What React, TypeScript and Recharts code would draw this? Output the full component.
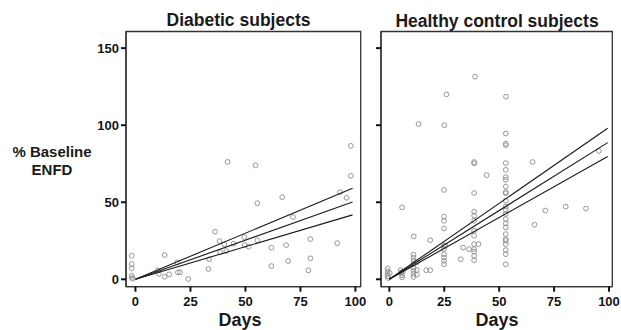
import React from 'react';
import { ScatterChart, Scatter, XAxis, YAxis, ReferenceArea } from 'recharts';

// Diabetic subjects: days vs % baseline ENFD
const diabeticDays = [-1.7, -1.7, -1.7, -1.7, -1.7, -1.2, 10.2, 10.7, 13.3, 13.3, 15.3, 19, 19.3, 20.3, 24, 33.2, 33.5, 36.2, 38.2, 38.5, 41.3, 40.4, 41.9, 44.6, 49.5, 49.7, 51.5, 54.6, 55.4, 55.4, 61.8, 61.8, 66.7, 68.5, 69.4, 71.6, 78.6, 79.5, 79.5, 91.7, 93, 96, 97.9, 97.9];
const diabeticEnfd = [15.3, 9.9, 7.1, 2.4, 1, 0.4, 5.8, 3.5, 15.8, 1.7, 3.2, 11, 4.5, 4.5, 0.2, 6.7, 13, 30.9, 24.8, 17.5, 18.3, 22.7, 76.2, 23.1, 27.4, 22.2, 21.2, 74, 49.4, 25.3, 20.5, 8.6, 53.3, 22.2, 11.9, 40.4, 5.8, 26.1, 13.6, 23.5, 56.6, 52.9, 67.1, 86.6];

// Healthy control subjects
const controlDays = [
  -0.8, -0.8, -0.8, -0.8, -0.5, 0.2,
  5.2, 5.5, 5.8, 5.8, 6.2,
  11, 11, 11, 11, 11, 11, 11, 11, 12.5, 12.5, 12.5,
  13.3, 26, 25, 39, 53.1, 5.8, 11.1, 18.6, 16.8, 18.6,
  24.9, 24.9, 24.9, 24.9, 24.9, 24.9, 24.9, 24.9, 24.9, 24.9, 25.5,
  32.5, 33.6, 36.3,
  38.6, 38.6, 38.6, 38.6, 38.6, 38.6, 38.6, 38.6, 38.6, 38.6, 38.6, 38.6, 38.6, 40.6,
  44.3,
  53, 53, 53, 53, 53, 53, 53, 53, 53, 53, 53, 53, 53, 53, 53, 53, 53, 53, 53, 53, 53, 53, 53, 53,
  65.2, 66.1, 71, 80.3, 89.5, 95.4,
];
const controlEnfd = [
  7, 5.2, 3.5, 2, 0.8, 4,
  6, 4.5, 2.6, 1.2, 5,
  16, 14, 12, 10, 7.5, 5.5, 3.5, 1.5, 11, 6, 3,
  100.7, 120, 100, 131.5, 118.5, 46.7, 27.8, 25.4, 5.9, 5.9,
  58, 40.7, 38, 33, 21.7, 19.6, 16.3, 14.1, 12, 9.8, 22,
  13, 20.6, 19.6,
  76.1, 75.2, 56, 43.9, 41.3, 38, 31.5, 28.3, 22.8, 19.6, 18, 15.2, 12.4, 22.8,
  67.6,
  94.6, 88, 87, 75.4, 71, 66.3, 64.6, 60.2, 56.5, 55.9, 51, 47.2, 45, 42.4, 39.1, 36.3, 33.7, 29.3, 26.1, 25, 22.8, 18.9, 16.3, 9.8,
  76.1, 35.4, 44.6, 47.2, 45.9, 83.3,
];

// regression line and confidence bands: start and end [day, value]
const diabeticFit = [[0, 0], [98.7, 50.1]];
const diabeticUpper = [[0, 0], [98.7, 59.1]];
const diabeticLower = [[0, 0], [98.7, 41.8]];
const controlFit = [[0, 0], [99.4, 88.7]];
const controlUpper = [[0, 0], [99.4, 98]];
const controlLower = [[0, 0], [99.4, 79.7]];

const xTicks = [0, 25, 50, 75, 100];
const yTicks = [0, 50, 100, 150];

const FONT = '"Liberation Sans", Arial, Helvetica, sans-serif';
const Y_DOMAIN: [number, number] = [-4.8, 160.8];

const toPoints = (xs: number[], ys: number[]) => xs.map((x, i) => ({ x, y: ys[i] }));
const toLine = (pts: number[][]) => pts.map(([x, y]) => ({ x, y }));

const Dot = (props: any) => (
  <circle cx={props.cx} cy={props.cy} r={2.4} fill="none" stroke="#8c8c8c" strokeWidth={0.9} />
);
const NoDot = () => <g />;

const tickStyle = { fill: '#151515', fontSize: 13, fontWeight: 700, fontFamily: FONT };
const axisLine = { stroke: '#333', strokeWidth: 1.3 };
const tickLine = { stroke: '#111', strokeWidth: 2 };

interface PanelProps {
  points: { x: number; y: number }[];
  lines: number[][][];
  xDomain: [number, number];
  width: number;
  margin: { top: number; right: number; bottom: number; left: number };
  yAxisWidth: number;
  showYLabels: boolean;
}

const Panel = ({ points, lines, xDomain, width, margin, yAxisWidth, showYLabels }: PanelProps) => (
  <ScatterChart width={width} height={330} margin={margin}>
    <XAxis
      type="number"
      dataKey="x"
      domain={xDomain}
      allowDataOverflow
      ticks={xTicks}
      interval={0}
      height={20}
      tickSize={5}
      tickMargin={5}
      axisLine={axisLine}
      tickLine={tickLine}
      tick={tickStyle}
    />
    <YAxis
      type="number"
      dataKey="y"
      domain={Y_DOMAIN}
      allowDataOverflow
      ticks={yTicks}
      interval={0}
      width={yAxisWidth}
      tickSize={5}
      tickMargin={2}
      axisLine={axisLine}
      tickLine={tickLine}
      tick={showYLabels ? tickStyle : NoDot}
    />
    <ReferenceArea
      x1={xDomain[0]}
      x2={xDomain[1]}
      y1={Y_DOMAIN[0]}
      y2={Y_DOMAIN[1]}
      fill="none"
      stroke="#333"
      strokeWidth={1.3}
      ifOverflow="visible"
    />
    <Scatter data={points} shape={Dot} isAnimationActive={false} />
    {lines.map((l, i) => (
      <Scatter
        key={i}
        data={toLine(l)}
        shape={NoDot}
        line={{ stroke: '#1a1a1a', strokeWidth: 1.1 }}
        isAnimationActive={false}
      />
    ))}
  </ScatterChart>
);

export default function App() {
  return (
    <div style={{ position: 'absolute', left: 0, top: 0, width: 621, height: 330, background: '#fff', fontFamily: FONT }}>
      <div style={{ position: 'absolute', left: 0, top: 0 }}>
        <Panel
          points={toPoints(diabeticDays, diabeticEnfd)}
          lines={[diabeticUpper, diabeticFit, diabeticLower]}
          xDomain={[-4.3, 102.4]}
          width={370}
          margin={{ top: 31.5, right: 9.3, bottom: 23.3, left: 96 }}
          yAxisWidth={30}
          showYLabels
        />
      </div>
      <div style={{ position: 'absolute', left: 370, top: 0 }}>
        <Panel
          points={toPoints(controlDays, controlEnfd)}
          lines={[controlUpper, controlFit, controlLower]}
          xDomain={[-3.8, 101.5]}
          width={251}
          margin={{ top: 31.5, right: 8.7, bottom: 23.3, left: 1 }}
          yAxisWidth={10}
          showYLabels={false}
        />
      </div>
      <svg
        width={621}
        height={330}
        style={{ position: 'absolute', left: 0, top: 0, pointerEvents: 'none' }}
        fontFamily={FONT}
        fontWeight={700}
        fill="#1a1a1a"
      >
        <text x={238.5} y={26} textAnchor="middle" fontSize={17.5}>Diabetic subjects</text>
        <text x={497} y={26.5} textAnchor="middle" fontSize={17.5}>Healthy control subjects</text>
        <text x={52} y={157} textAnchor="middle" fontSize={15}>% Baseline</text>
        <text x={52} y={175} textAnchor="middle" fontSize={15}>ENFD</text>
        <text x={240} y={325.5} textAnchor="middle" fontSize={18}>Days</text>
        <text x={497} y={325.5} textAnchor="middle" fontSize={18}>Days</text>
      </svg>
    </div>
  );
}
